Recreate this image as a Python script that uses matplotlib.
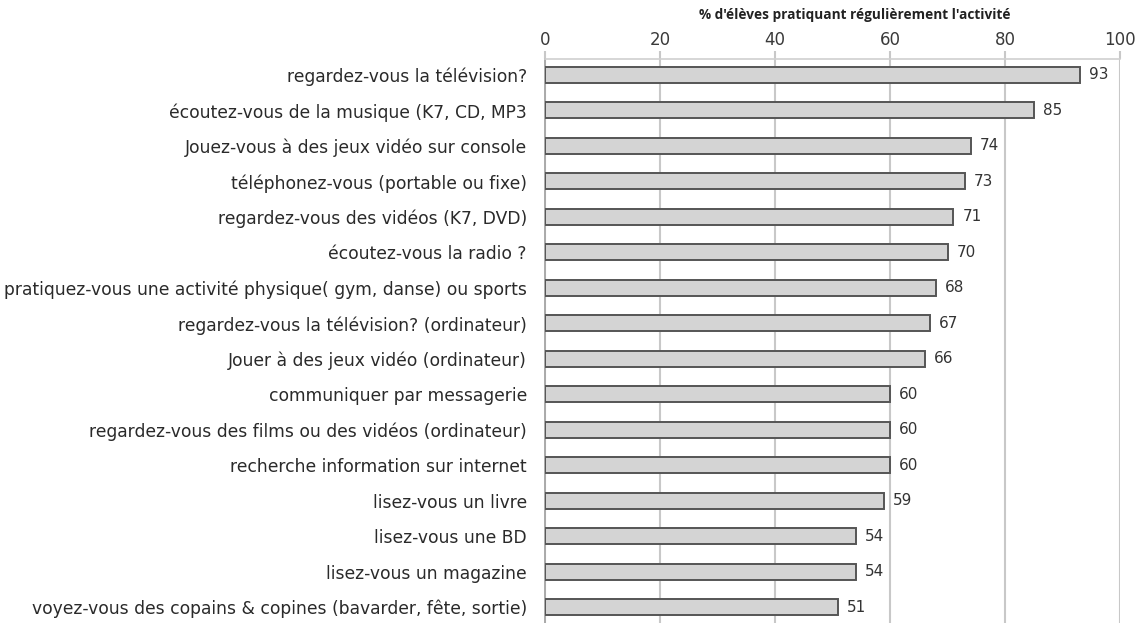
import matplotlib
matplotlib.use("Agg")
import matplotlib.pyplot as plt

activities = [
    "regardez-vous la télévision?",
    "écoutez-vous de la musique (K7, CD, MP3",
    "Jouez-vous à des jeux vidéo sur console",
    "téléphonez-vous (portable ou fixe)",
    "regardez-vous des vidéos (K7, DVD)",
    "écoutez-vous la radio ?",
    "pratiquez-vous une activité physique( gym, danse) ou sports",
    "regardez-vous la télévision? (ordinateur)",
    "Jouer à des jeux vidéo (ordinateur)",
    "communiquer par messagerie",
    "regardez-vous des films ou des vidéos (ordinateur)",
    "recherche information sur internet",
    "lisez-vous un livre",
    "lisez-vous une BD",
    "lisez-vous un magazine",
    "voyez-vous des copains & copines (bavarder, fête, sortie)",
]
percent = [93, 85, 74, 73, 71, 70, 68, 67, 66, 60, 60, 60, 59, 54, 54, 51]
ticks = [0, 20, 40, 60, 80, 100]

plt.rcParams["font.family"] = ["DejaVu Sans"]

W, H = 1147, 623
fig = plt.figure(figsize=(W / 100, H / 100), dpi=100)
ax = fig.add_axes([545 / W, 0.0, 575 / W, 1 - 59 / H])

pos = list(range(len(activities)))
ax.barh(pos, percent, height=0.45, color="#d4d4d4", edgecolor="#555555",
        linewidth=1.4, zorder=3)
for y, v in zip(pos, percent):
    ax.annotate(f"{v}", (v, y), xytext=(6.5, 0), textcoords="offset points",
                va="center", ha="left", fontsize=11, color="#333333")

ax.set_xlim(0, 100)
ax.set_ylim(15.45, -0.45)
ax.set_yticks(pos)
ax.set_yticklabels(activities, fontsize=12.3, color="#2a2a2a")
ax.tick_params(axis="y", length=0, pad=13)
ax.xaxis.tick_top()
ax.set_xticks(ticks)
ax.tick_params(axis="x", length=6, width=1.5, color="#c8c8c8", labelsize=12,
               labelcolor="#3a3a3a", pad=1)
ax.xaxis.grid(True, color="#c8c8c8", linewidth=1.5, zorder=0)
ax.set_axisbelow(True)
for side in ["right", "bottom"]:
    ax.spines[side].set_visible(False)
ax.spines["top"].set_color("#d0d0d0")
ax.spines["left"].set_color("#aaaaaa")
ax.spines["top"].set_linewidth(1.2)
ax.spines["left"].set_linewidth(1.4)

fig.text(855 / W, 1 - 15 / H, "% d'élèves pratiquant régulièrement l'activité",
         fontsize=9.8, fontweight="bold", family="Open Sans",
         color="#222222", ha="center", va="center")

fig.savefig("out.png", dpi=100)
